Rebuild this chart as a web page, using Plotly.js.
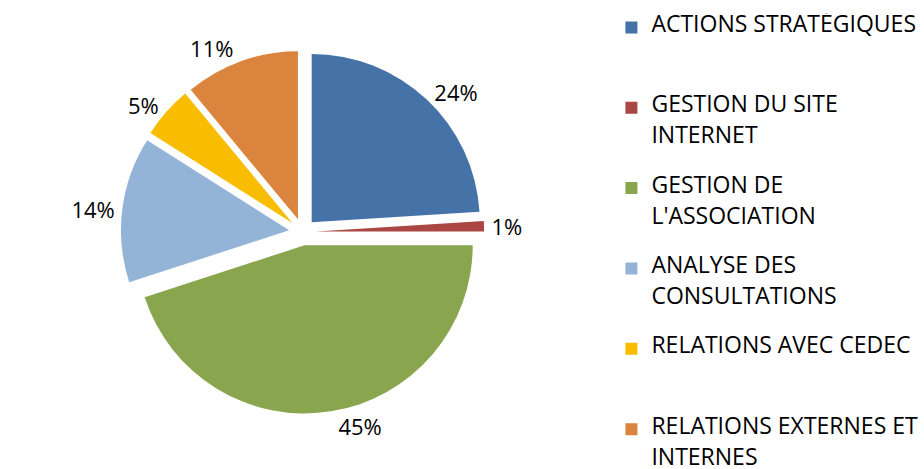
<!DOCTYPE html>
<html>
<head>
<meta charset="utf-8">
<script src="https://cdn.plot.ly/plotly-3.0.1.min.js"></script>
<style>html,body{margin:0;padding:0;background:#fff;}#chart{width:924px;height:469px;}</style>
</head>
<body>
<div id="chart"></div>
<script>
// legend text lines (each visible line is followed by a spacer line)
var categoryLines = [
  ["ACTIONS STRATÉGIQUES"],
  ["GESTION DU SITE", "INTERNET"],
  ["GESTION DE", "L'ASSOCIATION"],
  ["ANALYSE DES", "CONSULTATIONS"],
  ["RELATIONS AVEC CEDEC"],
  ["RELATIONS EXTERNES ET", "INTERNES"]
];
var values = [24, 1, 45, 14, 5, 11];
var colors = ["#4572A7", "#AA4643", "#89A54E", "#93B3D7", "#F9BD00", "#DB843D"];
var pulls = [0.08, 0.08, 0.08, 0.08, 0.08, 0.08];

function legendLabel(lines, isLast) {
  var parts = lines.map(function (t) { return "<span style='font-size:23px'>" + t + "</span>"; });
  var out = parts[0] + "<br>&nbsp;<br>" + (parts[1] || "&nbsp;");
  if (!isLast) out += "<br>&nbsp;<br>&nbsp;";
  return out;
}
var labels = categoryLines.map(function (l, i) { return legendLabel(l, i === categoryLines.length - 1); });

var trace = {
  type: "pie",
  labels: labels,
  values: values,
  sort: false,
  direction: "clockwise",
  rotation: 0,
  pull: pulls,
  marker: {colors: colors, line: {color: "#ffffff", width: 0}},
  texttemplate: "%{percent}",
  textposition: "outside",
  outsidetextfont: {family: "'Open Sans', 'Liberation Sans', sans-serif", size: 22, color: "#000"},
  hoverinfo: "percent",
  domain: {x: [0.0, 0.64], y: [0.1, 0.9]}
};

var layout = {
  width: 924, height: 469,
  margin: {l: 10, r: 0, t: 5, b: 10, autoexpand: false},
  paper_bgcolor: "#fff",
  font: {family: "'Open Sans', 'Liberation Sans', sans-serif", size: 11.9, color: "#000"},
  showlegend: true,
  legend: {
    x: 0.658, xanchor: "left",
    y: 0.982, yanchor: "top",
    valign: "top",
    font: {size: 11.9, color: "#000"},
    itemwidth: 30,
    tracegroupgap: 0,
    maxheight: 2000
  }
};

Plotly.newPlot("chart", [trace], layout, {displayModeBar: false});
</script>
</body>
</html>
